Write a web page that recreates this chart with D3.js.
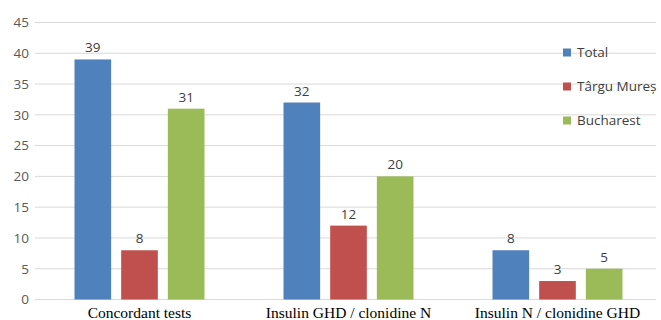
<!DOCTYPE html>
<html><head><meta charset="utf-8">
<script src="https://cdn.jsdelivr.net/npm/d3@7"></script>
<style>body{margin:0;background:#fff}svg{display:block}</style>
</head><body>
<svg id="c" width="661" height="320"></svg>
<script>
const categories = ["Concordant tests", "Insulin GHD / clonidine N", "Insulin N / clonidine GHD"];
const seriesNames = ["Total", "Târgu Mureș", "Bucharest"];
const total = [39, 32, 8];
const targuMures = [8, 12, 3];
const bucharest = [31, 20, 5];
const yTicks = [0, 5, 10, 15, 20, 25, 30, 35, 40, 45];
const colors = ["#4F81BD", "#C0504D", "#9BBB59"];

const series = [total, targuMures, bucharest];
const svg = d3.select("#c");
const x0 = d3.scaleBand().domain(categories).range([35, 662]).paddingInner(0).paddingOuter(0);
const x1 = d3.scaleBand().domain(seriesNames).range([0, 130]).paddingInner(0.215).paddingOuter(0);
const y = d3.scaleLinear().domain([0, 45]).range([299.5, 22.5]);

// gridlines
svg.append("g").selectAll("line").data(yTicks).join("line")
  .attr("x1", 35).attr("x2", 656)
  .attr("y1", d => y(d)).attr("y2", d => y(d))
  .attr("stroke", "#d9d9d9").attr("stroke-width", 1);

// y axis labels
const yAxis = d3.axisLeft(y).tickValues(yTicks).tickSize(0).tickPadding(0);
const ga = svg.append("g").attr("transform", "translate(29,0)").call(yAxis);
ga.select(".domain").remove();
ga.selectAll("text").attr("font-family", "Open Sans, sans-serif").attr("font-size", 13.5).attr("fill", "#595959");

// bars
categories.forEach((c, ci) => {
  const gx = x0(c) + (x0.bandwidth() - 130) / 2;
  seriesNames.forEach((s, si) => {
    const v = series[si][ci];
    svg.append("rect")
      .attr("x", gx + x1(s)).attr("width", x1.bandwidth())
      .attr("y", y(v)).attr("height", y(0) - y(v))
      .attr("fill", colors[si]);
    svg.append("text")
      .attr("x", gx + x1(s) + x1.bandwidth() / 2).attr("y", y(v) - 7)
      .attr("text-anchor", "middle")
      .attr("font-family", "Open Sans, sans-serif").attr("font-size", 13.5).attr("fill", "#404040")
      .text(v);
  });
});

// x axis labels
const xAxis = d3.axisBottom(x0).tickSize(0).tickPadding(0);
const gx = svg.append("g").attr("transform", "translate(0,307)").call(xAxis);
gx.select(".domain").remove();
gx.selectAll("text").attr("font-family", "Liberation Serif, Times New Roman, serif").attr("font-size", 15.5).attr("fill", "#000");

// legend
const leg = svg.append("g");
seriesNames.forEach((s, i) => {
  const cy = 52.5 + i * 34;
  leg.append("rect").attr("x", 563).attr("y", cy - 4).attr("width", 8).attr("height", 8).attr("fill", colors[i]);
  leg.append("text").attr("x", 577).attr("y", cy).attr("dy", "0.35em")
    .attr("font-family", "Open Sans, sans-serif").attr("font-size", 13.5).attr("fill", "#404040").text(s);
});
</script>
</body></html>
